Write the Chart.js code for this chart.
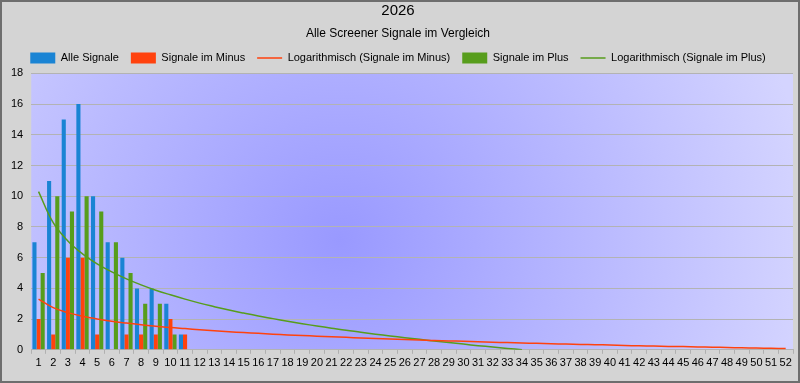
<!DOCTYPE html>
<html>
<head>
<meta charset="utf-8">
<script src="https://cdn.jsdelivr.net/npm/chart.js@4"></script>
<style>
  html, body { margin: 0; padding: 0; background: #d4d4d4; }
  #wrap { width: 800px; height: 383px; }
</style>
</head>
<body>
<div id="wrap"><canvas id="myChart" width="800" height="383"></canvas></div>
<script>
const FONT = "'Liberation Sans', Arial, sans-serif";

// weeks 1..52
const weeks = [];
for (let w = 1; w <= 52; w++) weeks.push(String(w));

const alleSignale = [7, 11, 15, 16, 10, 7, 6, 4, 4, 3, 1];
const signaleMinus = [2, 1, 6, 6, 1, 0, 1, 1, 1, 2, 1];
const signalePlus = [5, 10, 9, 10, 9, 7, 5, 3, 3, 1, 0];

// trend lines
const trendMinus = [3.3, 2.75, 2.42, 2.19, 2.01, 1.86, 1.74, 1.63, 1.54, 1.45, 1.38, 1.31, 1.24, 1.18, 1.12,
  1.07, 1.02, 0.97, 0.93, 0.89, 0.85, 0.81, 0.77, 0.74, 0.7, 0.67, 0.64, 0.6, 0.58, 0.55, 0.52, 0.49,
  0.47, 0.44, 0.42, 0.39, 0.37, 0.35, 0.33, 0.31, 0.28, 0.26, 0.24, 0.22, 0.21, 0.19, 0.17, 0.15,
  0.13, 0.11, 0.1, 0.08];
const trendPlus = [10.3, 8.28, 7.09, 6.25, 5.6, 5.07, 4.62, 4.23, 3.88, 3.58, 3.3, 3.04, 2.81, 2.59, 2.39,
  2.2, 2.03, 1.86, 1.7, 1.55, 1.41, 1.27, 1.15, 1.02, 0.9, 0.79, 0.68, 0.57, 0.47, 0.37, 0.27, 0.18,
  0.09, 0];

const blue = "#1a84d4";
const red = "#ff420e";
const green = "#579d1c";

// outer frame + plot gradient
const backdrop = {
  id: "backdrop",
  beforeDraw(chart) {
    const ctx = chart.ctx;
    const a = chart.chartArea;
    ctx.save();
    ctx.fillStyle = "#d4d4d4";
    ctx.fillRect(0, 0, chart.width, chart.height);
    ctx.strokeStyle = "#6e6e6e";
    ctx.lineWidth = 2;
    ctx.strokeRect(1, 1, chart.width - 2, chart.height - 2);
    const g = ctx.createRadialGradient(340, 240, 0, 340, 240, 470);
    g.addColorStop(0, "#9999ff");
    g.addColorStop(1, "#d4d4ff");
    ctx.fillStyle = g;
    ctx.fillRect(a.left, a.top, a.right - a.left, a.bottom - a.top);
    ctx.restore();
  }
};

const config = {
  data: {
    labels: weeks,
    datasets: [
      { type: "bar", label: "Alle Signale", data: alleSignale, backgroundColor: blue, order: 2 },
      { type: "bar", label: "Signale im Minus", data: signaleMinus, backgroundColor: red, order: 2 },
      {
        type: "line", label: "Logarithmisch (Signale im Minus)", data: trendMinus,
        borderColor: red, backgroundColor: red, borderWidth: 1.5, pointRadius: 0, tension: 0.4, order: 1
      },
      { type: "bar", label: "Signale im Plus", data: signalePlus, backgroundColor: green, order: 2 },
      {
        type: "line", label: "Logarithmisch (Signale im Plus)", data: trendPlus,
        borderColor: green, backgroundColor: green, borderWidth: 1.5, pointRadius: 0, tension: 0.4, order: 1
      }
    ]
  },
  options: {
    responsive: false,
    animation: false,
    layout: { padding: { left: 3, right: 7, top: 0, bottom: 10 } },
    datasets: { bar: { categoryPercentage: 0.84, barPercentage: 1 } },
    plugins: {
      title: {
        display: true, text: "2026", color: "#000",
        font: { family: FONT, size: 15, weight: "normal" }, padding: { top: 2, bottom: 6 }
      },
      subtitle: {
        display: true, text: "Alle Screener Signale im Vergleich", color: "#000",
        font: { family: FONT, size: 12, weight: "normal" }, padding: { bottom: 0 }
      },
      legend: {
        labels: {
          usePointStyle: true,
          pointStyleWidth: 25,
          boxHeight: 11,
          padding: 12,
          color: "#000",
          font: { family: FONT, size: 11 },
          generateLabels(chart) {
            return chart.data.datasets.map((ds, i) => ({
              text: ds.label,
              fillStyle: ds.backgroundColor,
              strokeStyle: ds.type === "line" ? ds.borderColor : ds.backgroundColor,
              lineWidth: ds.type === "line" ? 1.5 : 0,
              pointStyle: ds.type === "line" ? "line" : "rect",
              fontColor: "#000",
              datasetIndex: i,
              hidden: false
            }));
          }
        }
      },
      tooltip: { enabled: false }
    },
    scales: {
      x: {
        grid: { display: true, drawOnChartArea: false, tickLength: 4, color: "#b0b0b0" },
        border: { color: "#b3b3b3" },
        ticks: { color: "#000", font: { family: FONT, size: 11 }, maxRotation: 0, autoSkip: false, padding: 3 }
      },
      y: {
        min: 0, max: 18,
        grid: { color: "#b3b3b3", drawTicks: false },
        border: { display: false },
        ticks: { stepSize: 2, color: "#000", font: { family: FONT, size: 11 }, padding: 8 }
      }
    }
  },
  plugins: [backdrop]
};

new Chart(document.getElementById("myChart"), config);
</script>
</body>
</html>
